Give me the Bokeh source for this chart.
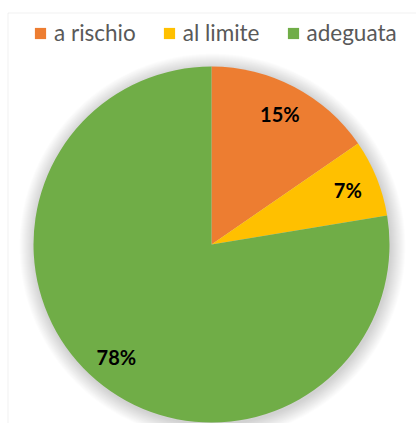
import numpy as np
from math import pi
from bokeh.plotting import figure
from bokeh.models import Range1d, ColumnDataSource, Legend, LegendItem, BoxAnnotation
from bokeh.core.properties import value
from bokeh.embed import file_html
from bokeh.resources import INLINE

categories = ["a rischio", "al limite", "adeguata"]
shares = [15.4, 7.0, 77.6]
colors = ["#ED7D31", "#FFC000", "#70AD47"]

W, H = 416, 423
p = figure(width=W, height=H, x_range=Range1d(0, W), y_range=Range1d(0, H),
           output_backend="svg", toolbar_location=None, min_border=0)
p.axis.visible = False
p.grid.visible = False
p.outline_line_color = None
p.background_fill_color = "white"

# chart area border (top and left visible)
p.add_layout(BoxAnnotation(left=7.5, right=460, bottom=-40, top=H - 12.5,
                           fill_alpha=0, line_color="#D0D0D0", line_width=1))

cx, cy, R = 211, H - 244, 178
frac = np.array(shares) / sum(shares)
ang = frac * 2 * pi
start = pi / 2 - np.concatenate([[0], np.cumsum(ang)[:-1]])
end = start - ang
mid = (start + end) / 2
lr = 147

src = ColumnDataSource(dict(
    cat=categories, start=start, end=end, color=colors,
    lx=cx + lr * np.cos(mid), ly=cy + lr * np.sin(mid),
    lab=[f"{round(s)}%" for s in shares],
))

# soft shadow
for k in range(1, 16):
    p.circle(x=cx + 1, y=cy - 2, radius=R + k, fill_color="black",
             fill_alpha=0.012, line_color=None)

r = p.wedge(x=cx, y=cy, radius=R, start_angle="start", end_angle="end",
            direction="clock", fill_color="color", line_color=None, source=src)

p.text(x="lx", y="ly", text="lab", source=src, text_align="center",
       text_baseline="middle", text_font=value("Lato"), text_font_style="bold",
       text_font_size="20px", text_color="black")

legend = Legend(items=[LegendItem(label=c, renderers=[r], index=i) for i, c in enumerate(categories)],
                orientation="horizontal", location=(33, 377), padding=0, margin=0,
                spacing=26, label_standoff=7, glyph_width=14, glyph_height=14,
                border_line_color=None, background_fill_alpha=0,
                label_text_font="Lato", label_text_font_size="22.5px",
                label_text_color="#595959")
p.add_layout(legend, "center")

open("out.html", "w").write(file_html(p, INLINE))
